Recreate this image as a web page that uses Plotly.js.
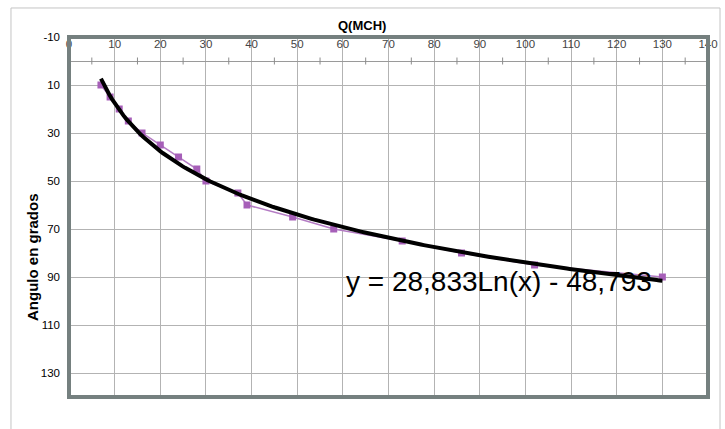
<!DOCTYPE html>
<html>
<head>
<meta charset="utf-8">
<script src="https://cdn.plot.ly/plotly-3.0.1.min.js"></script>
<style>html,body{margin:0;padding:0;background:#fff;}#chart{width:725px;height:429px;}</style>
</head>
<body>
<div id="chart"></div>
<script>
// Measured data (Q in MCH, angle in degrees)
var qValues = [7, 9, 11, 13, 16, 20, 24, 28, 30, 37, 39, 49, 58, 73, 86, 102, 130];
var angleValues = [10, 15, 20, 25, 30, 35, 40, 45, 50, 55, 60, 65, 70, 75, 80, 85, 90];
// Logarithmic trendline coefficients as printed on the chart
var trendA = 28.833;
var trendB = -48.793;
var trendLabel = "y = 28,833Ln(x) - 48,793";
var xTitle = "Q(MCH)";
var yTitle = "Angulo en grados";
var yTickVals = [-10, 10, 30, 50, 70, 90, 110, 130];
var yTickText = ["-10", "10", "30", "50", "70", "90", "110", "130"];
var xMinorTicks = [5, 15, 25, 35, 45, 55, 65, 75, 85, 95, 105, 115, 125, 135];

var trendX = [], trendY = [];
var xmin = Math.min.apply(null, qValues), xmax = Math.max.apply(null, qValues);
for (var i = 0; i <= 200; i++) {
  var x = xmin + (xmax - xmin) * i / 200;
  trendX.push(x);
  trendY.push(trendA * Math.log(x) + trendB);
}

var font = 'Liberation Sans, Arial, sans-serif';
var traces = [
  {x: xMinorTicks, y: xMinorTicks.map(function(){return 0;}), mode: 'markers', type: 'scatter',
   marker: {symbol: 'line-ns', size: 5, line: {width: 1, color: '#8c8c8c'}}, hoverinfo: 'skip', showlegend: false},
  {x: qValues, y: angleValues, mode: 'lines+markers', type: 'scatter',
   line: {color: '#b47cc4', width: 1.5}, marker: {symbol: 'square', size: 7, color: '#a65fb8'}, showlegend: false},
  {x: trendX, y: trendY, mode: 'lines', type: 'scatter',
   line: {color: '#000000', width: 4}, showlegend: false}
];

var layout = {
  width: 725, height: 429,
  margin: {l: 69, r: 17, t: 37, b: 32},
  paper_bgcolor: '#ffffff', plot_bgcolor: '#ffffff',
  font: {family: font, size: 11, color: '#000'},
  showlegend: false,
  xaxis: {
    range: [0, 140], side: 'top', dtick: 10, tick0: 0,
    ticklabelposition: 'inside', ticklabeloverflow: 'allow',
    showgrid: true, gridcolor: '#b3b3b3', gridwidth: 1,
    zeroline: false, showline: false, ticks: '',
    tickfont: {family: font, size: 11.5}
  },
  yaxis: {
    range: [140, -10], tickmode: 'array', tickvals: yTickVals, ticktext: yTickText,
    showgrid: true, gridcolor: '#b3b3b3', gridwidth: 1,
    zeroline: true, zerolinecolor: '#9a9a9a', zerolinewidth: 1,
    showline: false, ticks: '', ticklabelstandoff: 8,
    tickfont: {family: font, size: 11.5}
  },
  shapes: [
    {type: 'rect', xref: 'paper', yref: 'paper', x0: 0, x1: 1, y0: 0, y1: 1,
     line: {color: '#75807f', width: 4}, layer: 'above'},
    {type: 'rect', xref: 'paper', yref: 'paper', x0: -0.0908, x1: 1.0188, y0: -0.12, y1: 1.0806,
     line: {color: '#c4c4c4', width: 1}, layer: 'below'}
  ],
  annotations: [
    {text: '<b>' + xTitle + '</b>', xref: 'paper', yref: 'paper', x: 0.459, y: 1.033,
     xanchor: 'center', yanchor: 'middle', showarrow: false, font: {family: font, size: 13}},
    {text: '<b>' + yTitle + '</b>', xref: 'paper', yref: 'paper', x: -0.0563, y: 0.389,
     xanchor: 'center', yanchor: 'middle', textangle: -90, showarrow: false, font: {family: font, size: 15}},
    {text: trendLabel, xref: 'x', yref: 'y', x: 60.2, y: 92,
     xanchor: 'left', yanchor: 'middle', showarrow: false, font: {family: font, size: 28}}
  ]
};

Plotly.newPlot('chart', traces, layout, {displayModeBar: false, staticPlot: true});
</script>
</body>
</html>
